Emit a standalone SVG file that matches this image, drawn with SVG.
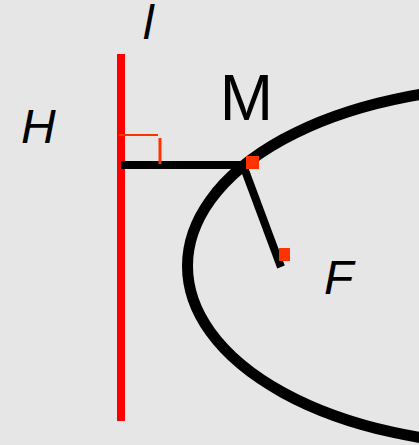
<svg xmlns="http://www.w3.org/2000/svg" width="419" height="445" viewBox="0 0 419 445">
<style>
.lbl{font-family:"Liberation Sans",Arial,sans-serif;fill:#000}
.it{font-style:italic;font-size:48px}
.blk{stroke:#000;stroke-width:8;fill:none}
.mark{fill:#ff3300}
</style>
<rect width="419" height="445" fill="#e6e6e6"/>
<g id="ellipse"><ellipse cx="513.5" cy="266" rx="326" ry="179" fill="none" stroke="#000" stroke-width="11"/></g>
<g id="line-l"><line x1="121" y1="54" x2="121" y2="421" stroke="#ff0000" stroke-width="8"/></g>
<g id="connectors">
<line class="blk" x1="121" y1="165" x2="245" y2="165"/>
<line class="blk" x1="243" y1="165" x2="281" y2="267"/>
</g>
<g id="right-angle">
<line x1="119" y1="135" x2="158" y2="135" stroke="#ff3300" stroke-width="2"/>
<line x1="160" y1="138" x2="160" y2="164" stroke="#ff3300" stroke-width="3"/>
</g>
<g id="M"><rect class="mark" x="246" y="156" width="13" height="13"/><text class="lbl" x="246.5" y="120" font-size="64" text-anchor="middle">M</text></g>
<g id="F"><rect class="mark" x="279" y="248" width="11" height="13"/><text class="lbl it" x="324" y="294">F</text></g>
<g id="H"><text class="lbl it" x="21" y="143">H</text></g>
<g id="l"><text class="lbl it" x="143" y="39">l</text></g>
</svg>
